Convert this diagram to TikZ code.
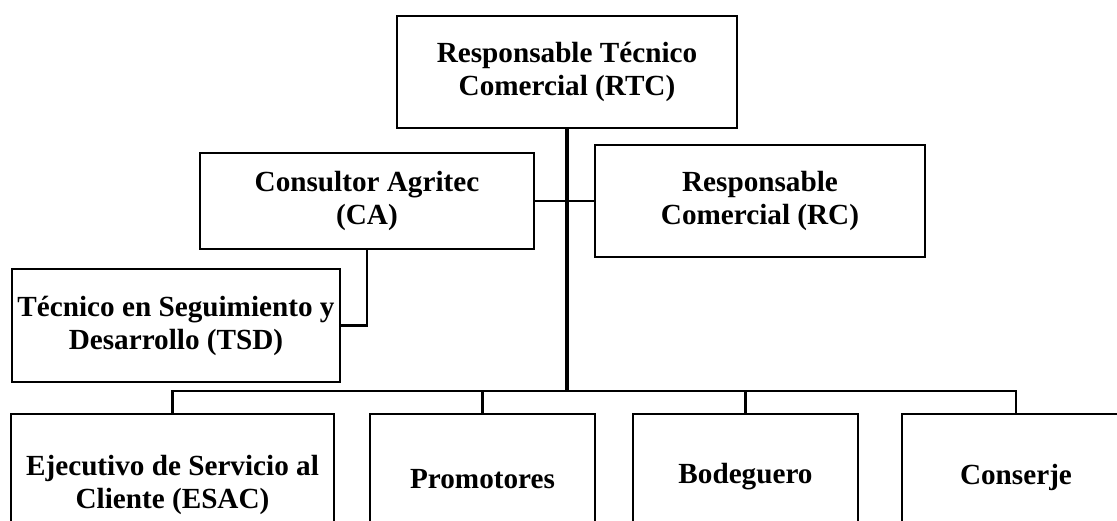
\documentclass[tikz,border=0pt]{standalone}
\usepackage{fontspec}
\setmainfont{Liberation Serif}
\usepackage{tikz}
\usetikzlibrary{positioning}

\begin{document}
\begin{tikzpicture}[x=1pt,y=-1pt,
  box/.style={rectangle,draw=black,line width=2.6pt,inner sep=0pt,align=center,
              font=\fontsize{29.2}{33}\selectfont\bfseries},
  link/.style={line width=2.6pt,black},
  trunk/.style={line width=3.4pt,black}
]
  \useasboundingbox (0,0) rectangle (1117,520);
  \clip (0,0) rectangle (1117,520);
  \node[box,minimum width=340pt,minimum height=112pt] (rtc) at (567,72) {Responsable Técnico\\Comercial (RTC)};
  \node[box,minimum width=334pt,minimum height=96pt]  (ca)  at (367,201) {Consultor Agritec\\(CA)};
  \node[box,minimum width=330pt,minimum height=112pt] (rc)  at (760,201) {Responsable\\Comercial (RC)};
  \node[box,minimum width=328pt,minimum height=113pt] (tsd) at (176,325.5) {Técnico en Seguimiento y\\Desarrollo (TSD)};
  \node[box,minimum width=323pt,minimum height=142pt] (esac) at (172.5,485) {Ejecutivo de Servicio al\\Cliente (ESAC)};
  \node[box,minimum width=225pt,minimum height=130pt,right=33.4pt of esac.north east,anchor=north west] (prom) {Promotores};
  \node[box,minimum width=225pt,minimum height=126pt,right=35.4pt of prom.north east,anchor=north west] (bod)  {Bodeguero};
  \node[box,minimum width=228pt,minimum height=126pt,right=41.4pt of bod.north east,anchor=north west]  (cons) {Conserje};
  \coordinate (bus) at (567,391);
  \draw[trunk](rtc.south) -- (bus);
  \draw[link](ca.east) -- (rc.west);
  \draw[link](ca.south) |- (tsd.east);
  \draw[link](esac.north) |- (bus) -| (cons.north);
  \draw[link](prom.north) -- (prom.north |- bus);
  \draw[link](bod.north) -- (bod.north |- bus);
\end{tikzpicture}
\end{document}
